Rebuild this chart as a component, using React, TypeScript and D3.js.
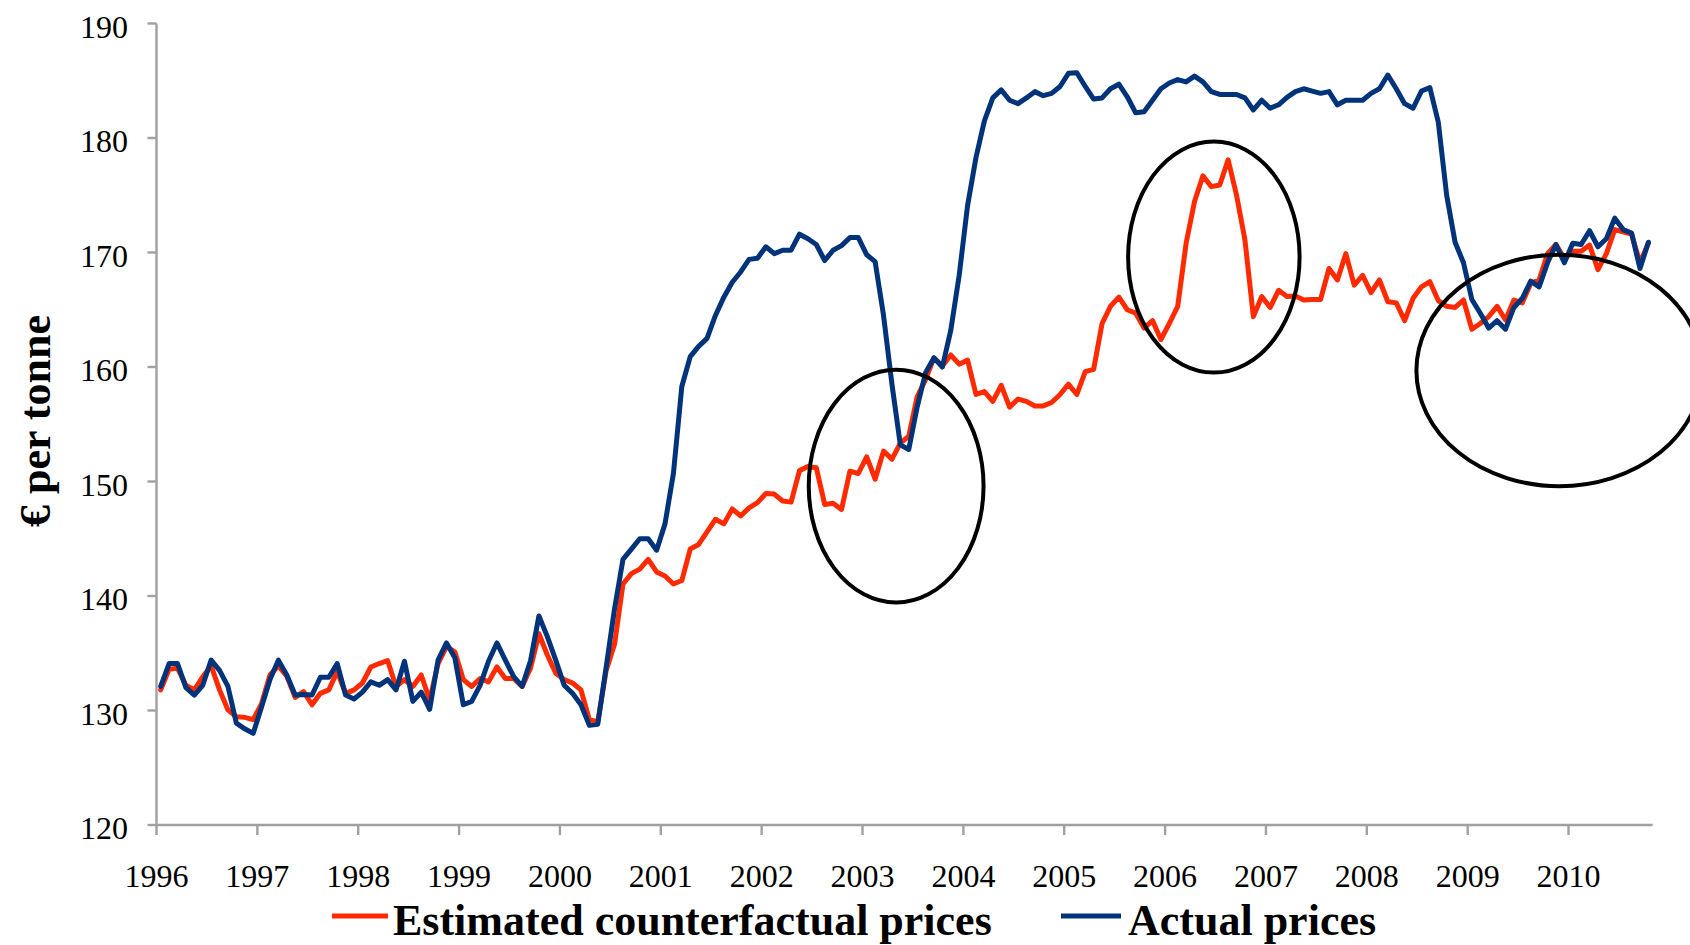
import React from "react";
import * as d3 from "d3";

// Monthly data, Jan 1996 .. Oct 2010 (178 months)
const counterfactual: number[] = [
  131.8, 133.6, 133.7, 132.2, 131.8, 132.95, 133.9, 131.8, 130.05, 129.45, 129.4, 129.2,
  130.6, 133.1, 133.9, 133.0, 131.15, 131.65, 130.5, 131.5, 131.8, 133.4, 131.5, 131.8,
  132.4, 133.8, 134.1, 134.35, 132.1, 132.7, 132.1, 133.1, 130.9, 134.1, 135.6, 135.1,
  132.7, 132.1, 132.8, 132.5, 133.8, 132.8, 132.8, 132.1, 133.7, 136.7, 134.85, 133.25,
  132.7, 132.4, 131.8, 129.2, 129.0, 133.5, 135.8, 141.05, 141.95, 142.35, 143.2, 142.1,
  141.75, 141.05, 141.35, 144.1, 144.5, 145.6, 146.7, 146.3, 147.6, 147.0, 147.7, 148.15,
  148.95, 148.9, 148.3, 148.2, 150.95, 151.3, 151.2, 148.0, 148.1, 147.55, 150.9, 150.7,
  152.15, 150.2, 152.65, 151.95, 153.35, 153.95, 157.4, 158.9, 160.8, 160.1, 161.05, 160.25,
  160.6, 157.6, 157.85, 157.0, 158.4, 156.5, 157.2, 157.0, 156.6, 156.6, 156.9, 157.6,
  158.5, 157.6, 159.6, 159.8, 163.8, 165.3, 166.1, 165.0, 164.7, 163.4, 164.05, 162.4,
  163.8, 165.3, 170.8, 174.45, 176.7, 175.75, 175.9, 178.1, 175.0, 171.1, 164.4, 166.15,
  165.2, 166.7, 166.15, 166.2, 165.85, 165.9, 165.9, 168.6, 167.6, 169.9, 167.15, 168.0,
  166.5, 167.6, 165.7, 165.6, 164.05, 166.0, 167.0, 167.45, 165.8, 165.3, 165.2, 165.85,
  163.3, 163.8, 164.4, 165.3, 164.1, 165.85, 165.6, 167.3, 167.6, 169.9, 170.7, 169.5,
  170.1, 170.1, 170.65, 168.5, 169.9, 172.0, 171.8, 171.6, 169.1, 170.8,
];

const actual: number[] = [
  132.1, 134.1, 134.1, 132.0, 131.35, 132.2, 134.4, 133.5, 132.1, 128.9, 128.4, 128.0,
  130.3, 132.7, 134.4, 133.1, 131.35, 131.4, 131.35, 132.9, 132.9, 134.1, 131.35, 131.0,
  131.6, 132.5, 132.2, 132.7, 131.8, 134.3, 130.8, 131.6, 130.1, 134.4, 135.9, 134.6,
  130.5, 130.8, 132.2, 134.3, 135.9, 134.4, 132.95, 132.1, 134.35, 138.25, 136.45, 134.4,
  132.2, 131.5, 130.5, 128.7, 128.8, 133.8, 138.9, 143.2, 144.1, 145.0, 145.0, 144.0,
  146.3, 150.7, 158.3, 160.9, 161.8, 162.5, 164.5, 166.1, 167.4, 168.3, 169.4, 169.5,
  170.5, 169.9, 170.2, 170.2, 171.6, 171.2, 170.7, 169.3, 170.2, 170.6, 171.3, 171.3,
  169.8, 169.2, 164.5, 158.5, 153.2, 152.8, 156.5, 159.5, 160.8, 160.0, 163.2, 168.0,
  174.1, 178.3, 181.5, 183.5, 184.2, 183.3, 183.0, 183.5, 184.05, 183.7, 183.9, 184.5,
  185.65, 185.7, 184.5, 183.4, 183.5, 184.3, 184.7, 183.6, 182.2, 182.3, 183.3, 184.3,
  184.8, 185.1, 184.9, 185.4, 184.9, 184.05, 183.8, 183.8, 183.8, 183.5, 182.45, 183.3,
  182.6, 182.9, 183.55, 184.05, 184.3, 184.1, 183.9, 184.05, 182.9, 183.3, 183.3, 183.3,
  183.9, 184.3, 185.5, 184.3, 183.0, 182.6, 184.1, 184.4, 181.4, 175.0, 170.9, 169.1,
  165.9, 164.7, 163.4, 164.05, 163.3, 165.2, 166.0, 167.5, 167.0, 169.1, 170.7, 169.1,
  170.8, 170.7, 171.9, 170.5, 171.2, 173.0, 172.0, 171.7, 168.6, 170.9,
];

const yearLabels: string[] = [
  "1996", "1997", "1998", "1999", "2000", "2001", "2002", "2003",
  "2004", "2005", "2006", "2007", "2008", "2009", "2010",
];
const yTicks: number[] = [120, 130, 140, 150, 160, 170, 180, 190];

const seriesNames: string[] = ["Estimated counterfactual prices", "Actual prices"];
const seriesColors: string[] = ["#FF2A00", "#00337A"];

// Highlight ellipses: centre month index, centre value, radius in months, radius in value units
const ellipseCentreMonths: number[] = [88.0, 125.8, 166.9];
const ellipseCentreValues: number[] = [149.6, 169.6, 159.7];
const ellipseRadiusMonths: number[] = [10.4, 10.2, 17.0];
const ellipseRadiusValues: number[] = [10.17, 10.09, 10.11];

const FONT = "'Liberation Serif', 'Times New Roman', serif";

export default function App() {
  const W = 1690;
  const H = 945;
  const nMonths = actual.length;
  const x = d3.scaleLinear().domain([0, nMonths]).range([156.5, 156.5 + nMonths * 8.405]);
  const y = d3.scaleLinear().domain([120, 190]).range([825, 23.5]);

  const line = d3
    .line<number>()
    .x((_, i) => x(i + 0.5))
    .y((d) => y(d));

  const axisColor = "#A0A0A0";
  const x0 = x(0);
  const x1 = x(nMonths);

  return (
    <div style={{ position: "absolute", left: 0, top: 0 }}>
      <svg width={W} height={H} style={{ display: "block", background: "#fff" }}>
        {/* y axis */}
        <line x1={x0} x2={x0} y1={y(190)} y2={y(120)} stroke={axisColor} strokeWidth={2.4} />
        {yTicks.map((t) => (
          <g key={t}>
            <line x1={x0 - 9} x2={x0} y1={y(t)} y2={y(t)} stroke={axisColor} strokeWidth={2.4} />
            <text
              x={128}
              y={y(t) + 14}
              textAnchor="end"
              fontFamily={FONT}
              fontSize={32}
              fill="#000"
            >
              {t}
            </text>
          </g>
        ))}
        {/* x axis */}
        <line x1={x0} x2={x1} y1={y(120)} y2={y(120)} stroke={axisColor} strokeWidth={2.4} />
        {yearLabels.map((lab, k) => (
          <g key={lab}>
            <line
              x1={x(k * 12)}
              x2={x(k * 12)}
              y1={y(120)}
              y2={y(120) + 10}
              stroke={axisColor}
              strokeWidth={2.4}
            />
            <text
              x={x(k * 12)}
              y={887}
              textAnchor="middle"
              fontFamily={FONT}
              fontSize={32}
              fill="#000"
            >
              {lab}
            </text>
          </g>
        ))}

        {/* y axis title */}
        <text
          transform={`translate(50, 421) rotate(-90)`}
          textAnchor="middle"
          fontFamily={FONT}
          fontSize={44}
          fontWeight="bold"
          fill="#000"
        >
          € per tonne
        </text>

        {/* series */}
        <path
          d={line(counterfactual) || ""}
          fill="none"
          stroke={seriesColors[0]}
          strokeWidth={5}
          strokeLinejoin="round"
          strokeLinecap="round"
        />
        <path
          d={line(actual) || ""}
          fill="none"
          stroke={seriesColors[1]}
          strokeWidth={5}
          strokeLinejoin="round"
          strokeLinecap="round"
        />

        {/* ellipses */}
        {ellipseCentreMonths.map((m, k) => (
          <ellipse
            key={k}
            cx={x(m)}
            cy={y(ellipseCentreValues[k])}
            rx={x(m + ellipseRadiusMonths[k]) - x(m)}
            ry={y(ellipseCentreValues[k] - ellipseRadiusValues[k]) - y(ellipseCentreValues[k])}
            fill="none"
            stroke="#000"
            strokeWidth={4}
          />
        ))}

        {/* legend */}
        <line x1={332} x2={388} y1={916} y2={916} stroke={seriesColors[0]} strokeWidth={5} />
        <text x={393} y={935} fontFamily={FONT} fontSize={44} fontWeight="bold" fill="#000">
          {seriesNames[0]}
        </text>
        <line x1={1061} x2={1121} y1={916} y2={916} stroke={seriesColors[1]} strokeWidth={5} />
        <text x={1128} y={935} fontFamily={FONT} fontSize={44} fontWeight="bold" fill="#000">
          {seriesNames[1]}
        </text>
      </svg>
    </div>
  );
}
